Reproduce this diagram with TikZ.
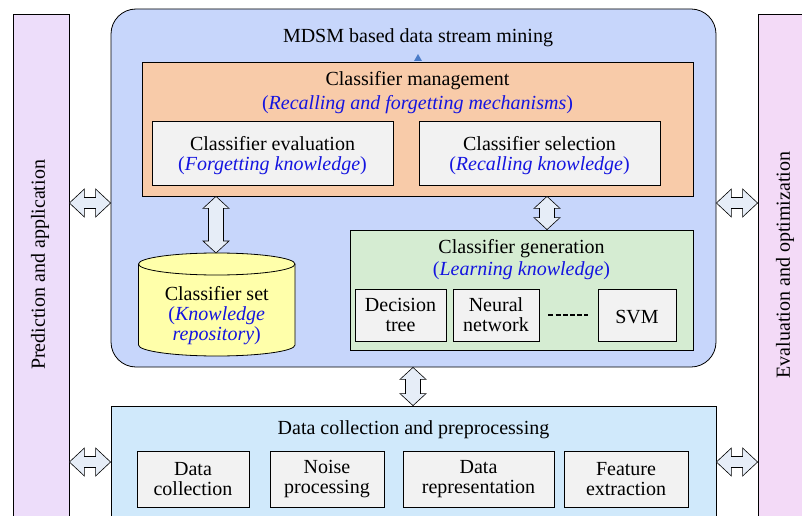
\documentclass[tikz,border=0pt]{standalone}
\usepackage{fontspec}
\setmainfont{Liberation Serif}
\usetikzlibrary{calc}
\definecolor{barL}{HTML}{EDDDFA}
\definecolor{barR}{HTML}{F3DAF7}
\definecolor{mainblue}{HTML}{C7D6FB}
\definecolor{orangebox}{HTML}{F8CBA9}
\definecolor{greybox}{HTML}{F2F2F2}
\definecolor{greenbox}{HTML}{D5ECD2}
\definecolor{cylyellow}{HTML}{FFFFAA}
\definecolor{botblue}{HTML}{D0E9FB}
\definecolor{arrfill}{HTML}{E6EDF7}
\definecolor{txtblue}{HTML}{1414E0}
\definecolor{triblue}{HTML}{4A7CC8}
\newcommand\kn[1]{{\color{txtblue}(\textit{#1})}}
\newcommand\hdbl[2]{\path[dblarr] let \p1=(#1), \p2=(#2) in
 (\x1,\y1) -- (\x1+15pt,\y1+14pt) -- (\x1+15pt,\y1+5.5pt) -- (\x2-15pt,\y1+5.5pt) -- (\x2-15pt,\y1+14pt) -- (\x2,\y1)
 -- (\x2-15pt,\y1-14pt) -- (\x2-15pt,\y1-5.5pt) -- (\x1+15pt,\y1-5.5pt) -- (\x1+15pt,\y1-14pt) -- cycle;}
\newcommand\vdbl[2]{\path[dblarr] let \p1=(#1), \p2=(#2) in
 (\x1,\y1) -- (\x1+13pt,\y1-12pt) -- (\x1+7.5pt,\y1-12pt) -- (\x1+7.5pt,\y2+12pt) -- (\x1+13pt,\y2+12pt) -- (\x1,\y2)
 -- (\x1-13pt,\y2+12pt) -- (\x1-7.5pt,\y2+12pt) -- (\x1-7.5pt,\y1-12pt) -- (\x1-13pt,\y1-12pt) -- cycle;}
\tikzset{
 every node/.style={font=\rmfamily\fontsize{20}{20}\selectfont, inner sep=0pt},
 frame/.style={draw=black, line width=0.8pt, rectangle},
 greyrect/.style={frame, fill=greybox},
 txt/.style={align=center, yshift=-2.5pt},
 txtc/.style={align=center},
 dblarr/.style={draw=black, line width=0.6pt, fill=arrfill, line join=miter},
}
\begin{document}
\begin{tikzpicture}[x=1pt,y=1pt]
\clip (0,0) rectangle (802,515);
\fill[white] (0,0) rectangle (802,515);
% side bars
\node[frame, fill=barL, minimum width=56, minimum height=511] (leftbar) at (41,245.5) {};
\node[rotate=90] (lefttext) at (40,250) {Prediction and application};
\node[frame, fill=barR, minimum width=57, minimum height=511] (rightbar) at (786.5,245.5) {};
\node[rotate=90] (righttext) at (785,250) {Evaluation and optimization};
% main box
\node[frame, fill=mainblue, rounded corners=25, minimum width=605, minimum height=358] (main) at (413.5,327) {};
\node[txt] (maintitle) at (418,480) {MDSM based data stream mining};
% orange management box
\node[frame, fill=orangebox, minimum width=551, minimum height=134] (mgmt) at (417.5,386) {};
\fill[triblue] (414,454) -- (422,454) -- (418,461) -- cycle;
\node[txt] (mgmttitle) at (417.5,437) {Classifier management};
\node[txt] (mgmtsub) at (417.5,413) {\kn{Recalling and forgetting mechanisms}};
\node[greyrect, minimum width=241, minimum height=64] (eval) at (272.5,362) {};
\node[txt] (evalt) at (eval.center) {Classifier evaluation\\\kn{Forgetting knowledge}};
\node[greyrect, minimum width=241, minimum height=64] (sel) at (539.5,362) {};
\node[txt] (selt) at (sel.center) {Classifier selection\\\kn{Recalling knowledge}};
% green generation box
\node[frame, fill=greenbox, minimum width=343, minimum height=120] (gen) at (521.5,225) {};
\node[txt] (gentitle) at (521.5,269) {Classifier generation};
\node[txt] (gensub) at (521.5,247) {\kn{Learning knowledge}};
\node[greyrect, minimum width=91, minimum height=52] (dtree) at (400.5,200) {};
\node[txtc] (dtreet) at (dtree.center) {Decision\\tree};
\node[greyrect, minimum width=86, minimum height=52] (nnet) at (496,200) {};
\node[txtc] (nnett) at (nnet.center) {Neural\\network};
\node[greyrect, minimum width=78, minimum height=52] (svm) at (637,200) {};
\node[txt] (svmt) at (svm.center) {SVM};
\draw[line width=2.4pt, dash pattern=on 5pt off 2.2pt] ([xshift=9pt]nnet.east) -- ([xshift=-10pt]svm.west);
% cylinder
\draw[frame, fill=cylyellow] (138.5,251) -- (138.5,170) arc[start angle=180, end angle=360, x radius=78.25, y radius=11]
  -- (295,251) arc[start angle=0, end angle=180, x radius=78.25, y radius=11] -- cycle;
\draw[line width=0.8pt] (138.5,251) arc[start angle=180, end angle=360, x radius=78.25, y radius=11];
\coordinate (cyltop) at (216.75,262);
\node[txt] (cylset) at (216.75,202) {Classifier set\\{\color{txtblue}(\textit{Knowledge}}\\{\color{txtblue}\textit{repository})}};
% bottom box
\node[frame, fill=botblue, minimum width=605, minimum height=119] (bottom) at (413.5,49.5) {};
\node[txt] (bottomtitle) at (413.5,88) {Data collection and preprocessing};
\node[greyrect, minimum width=112, minimum height=56] (dcol) at (193,36) {};
\node[txtc] (dcolt) at (dcol.center) {Data\\collection};
\node[greyrect, minimum width=114, minimum height=56] (noise) at (327,36) {};
\node[txtc] (noiset) at (noise.center) {Noise\\processing};
\node[greyrect, minimum width=151, minimum height=56] (drep) at (478.5,36) {};
\node[txtc] (drept) at (drep.center) {Data\\representation};
\node[greyrect, minimum width=124, minimum height=56] (feat) at (626,36) {};
\node[txtc] (featt) at (feat.center) {Feature\\extraction};
% connectors
\coordinate (yA) at (0,312);
\coordinate (yB) at (0,53);
\hdbl{leftbar.east |- yA}{main.west |- yA}
\hdbl{main.east |- yA}{rightbar.west |- yA}
\hdbl{leftbar.east |- yB}{bottom.west |- yB}
\hdbl{bottom.east |- yB}{rightbar.west |- yB}
\coordinate (xA) at (216,0);
\coordinate (xB) at (547,0);
\coordinate (xC) at (413,0);
\vdbl{mgmt.south -| xA}{cyltop}
\vdbl{mgmt.south -| xB}{gen.north -| xB}
\vdbl{main.south -| xC}{bottom.north -| xC}
\end{tikzpicture}
\end{document}
